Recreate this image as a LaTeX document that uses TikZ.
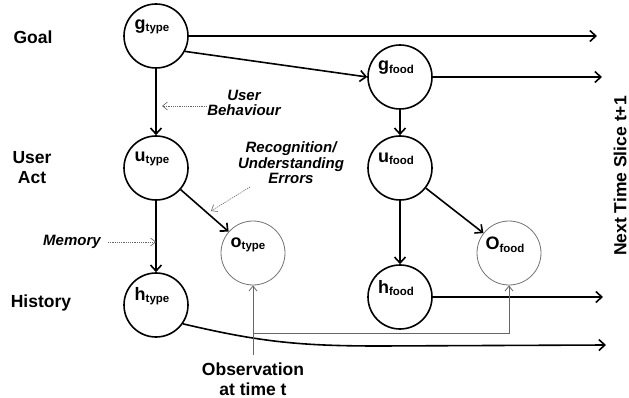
\documentclass[tikz,border=0pt]{standalone}
\usepackage{fontspec}
\setmainfont{Liberation Sans}
\usetikzlibrary{arrows.meta}
\newcommand{\sbs}[1]{\raisebox{-2.5pt}{\fontsize{11.5}{12}\selectfont #1}}
\begin{document}
\begin{tikzpicture}[x=1pt,y=-1pt,
  bignode/.style={circle, draw, line width=1.6pt, minimum size=64pt, inner sep=0pt},
  obsnode/.style={circle, draw=black!55, line width=0.8pt, minimum size=64pt, inner sep=0pt},
  nlbl/.style={font=\fontsize{18}{18}\selectfont\bfseries, inner sep=0pt},
  flow/.style={line width=1.6pt, -{Straight Barb[length=6pt,width=11pt]}},
  obs/.style={draw=black!60, line width=0.8pt, -{Straight Barb[length=5pt,width=8pt]}},
  note/.style={draw=black!60, line width=0.6pt, dash pattern=on 1.2pt off 1pt, -{Straight Barb[length=5pt,width=8pt]}},
  side/.style={font=\fontsize{17.5}{20}\selectfont\bfseries, align=center, inner sep=0pt},
  ital/.style={font=\fontsize{15}{15.5}\selectfont\bfseries\itshape, align=center, inner sep=0pt}]
\path[use as bounding box, fill=white] (0,0) rectangle (629,398);

% circles
\node[bignode] (gt) at (156,36) {};
\node[bignode] (ut) at (156,168) {};
\node[bignode] (ht) at (156,305) {};
\node[obsnode] (ot) at (253,253) {};
\node[bignode] (gf) at (400,77) {};
\node[bignode] (uf) at (400,168) {};
\node[bignode] (hf) at (400,297) {};
\node[obsnode] (of) at (509,253) {};

% labels inside circles
\node[nlbl] (gtl) at (152,27) {g\sbs{type}};
\node[nlbl] (utl) at (152,159) {u\sbs{type}};
\node[nlbl] (htl) at (152,296) {h\sbs{type}};
\node[nlbl] (otl) at (248,245) {o\sbs{type}};
\node[nlbl] (gfl) at (396,68) {g\sbs{food}};
\node[nlbl] (ufl) at (396,159) {u\sbs{food}};
\node[nlbl] (hfl) at (396,288) {h\sbs{food}};
\node[nlbl] (ofl) at (505,245) {O\sbs{food}};

% side labels
\node[side] (goal) at (33,37) {Goal};
\node[side] (uact) at (32,168) {User\\Act};
\node[side] (hist) at (41,303) {History};
\node[side, rotate=90] (next) at (620,176) {Next Time Slice t+1};
\node[side] (obsl) at (253,379) {Observation\\at time t};

% annotation labels
\node[ital] (ubl) at (244,103) {User\\Behaviour};
\node[ital] (rel) at (291,163) {Recognition/\\Understanding\\Errors};
\node[ital] (mem) at (72,242) {Memory};

% coordinates
\coordinate (e1) at (597,36);
\coordinate (e2) at (602,77);
\coordinate (e3) at (603,297);
\coordinate (e4) at (606,345);
\coordinate (ob0) at (253,355);
\coordinate (ob1) at (253,333);
\coordinate (ob2) at (509,333);
\coordinate (ubs) at (207,106);
\coordinate (ubt) at (162,106);
\coordinate (res) at (250,187);
\coordinate (ret) at (211,211);
\coordinate (mes) at (108,242);
\coordinate (met) at (156,242);

% flows
\draw[flow] (gt.east) -- (e1);
\draw[flow] (gt.-28) -- (gf.west);
\draw[flow] (gf.east) -- (e2);
\draw[flow] (gt.south) -- (ut.north);
\draw[flow] (gf.south) -- (uf.north);
\draw[flow] (ut.south) -- (ht.north);
\draw[flow] (uf.south) -- (hf.north);
\draw[flow] (ut) -- (ot);
\draw[flow] (uf) -- (of);
\draw[flow] (hf.east) -- (e3);
\draw[flow] (ht.-35) .. controls (260,342) and (300,346) .. (380,346) -- (e4);

% observations
\draw[obs] (ob0) -- (ot.south);
\draw[obs] (ob1) -- (ob2) -- (of.south);

% notes
\draw[note] (ubs) -- (ubt);
\draw[note] (res) -- (ret);
\draw[note] (mes) -- (met);
\end{tikzpicture}
\end{document}
